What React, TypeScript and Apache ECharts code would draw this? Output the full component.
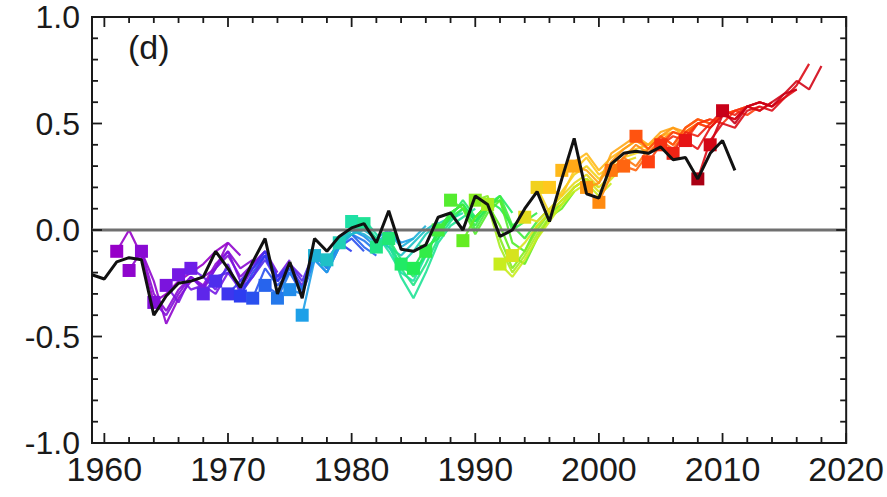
import React, { useEffect, useRef } from "react";
import * as echarts from "echarts";

// Observations (black line), yearly from 1959
const obsStartYear = 1959;
const obsValues = [
  -0.21, -0.23, -0.15, -0.13, -0.14, -0.4, -0.31, -0.25, -0.24, -0.22,
  -0.1, -0.18, -0.27, -0.15, -0.04, -0.3, -0.15, -0.32, -0.04, -0.1,
  -0.03, 0.01, 0.03, -0.06, 0.09, -0.09, -0.1, -0.07, 0.06, 0.08,
  0.0, 0.16, 0.12, -0.03, 0.0, 0.1, 0.18, 0.04, 0.24, 0.43,
  0.17, 0.15, 0.31, 0.36, 0.37, 0.36, 0.39, 0.33, 0.34, 0.24,
  0.36, 0.42, 0.28,
];

// Forecast start years and their yearly values
const forecastStarts = [
  1961, 1962, 1963, 1964, 1965, 1966, 1967, 1968, 1969, 1970,
  1971, 1972, 1973, 1974, 1975, 1976, 1977, 1978, 1979, 1980,
  1981, 1982, 1983, 1984, 1985, 1986, 1987, 1988, 1989, 1990,
  1991, 1992, 1993, 1994, 1995, 1996, 1997, 1998, 1999, 2000,
  2001, 2002, 2003, 2004, 2005, 2006, 2007, 2008, 2009, 2010,
];
const forecastValues = [
  [-0.1, 0.0, -0.12, -0.34, -0.3, -0.24, -0.2, -0.16, -0.1, -0.06],
  [-0.19, -0.1, -0.24, -0.44, -0.32, -0.24, -0.22, -0.18, -0.06, -0.12],
  [-0.1, -0.3, -0.38, -0.28, -0.22, -0.26, -0.16, -0.1, -0.18, -0.14],
  [-0.34, -0.4, -0.3, -0.22, -0.28, -0.18, -0.12, -0.22, -0.16, -0.1],
  [-0.26, -0.34, -0.22, -0.27, -0.18, -0.1, -0.24, -0.16, -0.1, -0.2],
  [-0.21, -0.28, -0.26, -0.3, -0.2, -0.28, -0.18, -0.1, -0.22, -0.14],
  [-0.18, -0.22, -0.28, -0.16, -0.3, -0.22, -0.12, -0.24, -0.16, -0.22],
  [-0.3, -0.22, -0.2, -0.26, -0.18, -0.12, -0.22, -0.18, -0.26, -0.12],
  [-0.24, -0.18, -0.28, -0.22, -0.14, -0.24, -0.16, -0.24, -0.1, -0.14],
  [-0.3, -0.24, -0.18, -0.1, -0.22, -0.16, -0.28, -0.1, -0.14, -0.06],
  [-0.31, -0.2, -0.12, -0.24, -0.18, -0.28, -0.12, -0.16, -0.06, -0.1],
  [-0.32, -0.18, -0.26, -0.2, -0.3, -0.14, -0.2, -0.08, -0.04, -0.1],
  [-0.26, -0.3, -0.18, -0.28, -0.12, -0.18, -0.06, -0.02, -0.08, -0.12],
  [-0.32, -0.2, -0.28, -0.1, -0.16, -0.06, -0.02, -0.05, -0.1, -0.04],
  [-0.28, -0.3, -0.12, -0.18, -0.06, 0.0, -0.03, -0.08, -0.02, -0.06],
  [-0.4, -0.14, -0.2, -0.08, -0.02, 0.02, -0.04, 0.0, -0.06, -0.04],
  [-0.12, -0.16, -0.04, 0.0, -0.02, -0.06, -0.01, -0.08, -0.04, 0.02],
  [-0.14, -0.06, -0.02, 0.0, -0.04, -0.08, -0.12, -0.06, 0.0, 0.04],
  [-0.06, 0.0, 0.02, -0.04, -0.08, -0.16, -0.1, -0.02, 0.03, 0.06],
  [0.04, 0.05, -0.02, -0.1, -0.2, -0.24, -0.12, 0.0, 0.05, 0.08],
  [0.03, -0.04, -0.06, -0.22, -0.32, -0.2, -0.06, 0.02, 0.06, 0.1],
  [-0.08, -0.04, -0.18, -0.26, -0.16, -0.04, 0.04, 0.1, 0.06, 0.12],
  [-0.04, -0.14, -0.2, -0.12, 0.0, 0.08, 0.12, 0.04, 0.1, 0.16],
  [-0.16, -0.22, -0.1, -0.02, 0.06, 0.14, 0.06, 0.12, 0.16, 0.08],
  [-0.18, -0.08, -0.04, 0.08, 0.12, 0.04, 0.14, 0.1, 0.02, 0.06],
  [-0.1, -0.02, 0.06, 0.1, 0.02, 0.12, 0.14, 0.0, 0.04, 0.08],
  [0.0, 0.08, 0.12, 0.0, 0.1, 0.16, 0.02, -0.04, 0.04, 0.1],
  [0.14, 0.1, -0.02, 0.08, 0.14, -0.06, -0.1, 0.02, 0.08, 0.12],
  [-0.05, 0.06, 0.12, 0.02, -0.12, -0.16, -0.04, 0.06, 0.1, 0.18],
  [0.14, 0.16, -0.04, -0.18, -0.1, 0.0, 0.08, 0.14, 0.2, 0.24],
  [0.12, -0.08, -0.2, -0.12, -0.02, 0.06, 0.12, 0.2, 0.24, 0.2],
  [-0.16, -0.22, -0.14, -0.04, 0.04, 0.12, 0.18, 0.22, 0.16, 0.22],
  [-0.12, -0.06, 0.02, 0.08, 0.14, 0.2, 0.24, 0.18, 0.24, 0.3],
  [0.06, 0.04, 0.1, 0.16, 0.22, 0.26, 0.2, 0.26, 0.32, 0.34],
  [0.2, 0.08, 0.18, 0.26, 0.3, 0.24, 0.28, 0.34, 0.36, 0.38],
  [0.2, 0.16, 0.28, 0.34, 0.26, 0.3, 0.36, 0.38, 0.4, 0.42],
  [0.28, 0.32, 0.36, 0.28, 0.34, 0.38, 0.42, 0.4, 0.44, 0.46],
  [0.3, 0.28, 0.22, 0.36, 0.4, 0.44, 0.4, 0.46, 0.48, 0.44],
  [0.2, 0.22, 0.32, 0.38, 0.42, 0.38, 0.44, 0.48, 0.46, 0.5],
  [0.13, 0.26, 0.34, 0.4, 0.36, 0.42, 0.46, 0.44, 0.5, 0.52],
  [0.28, 0.34, 0.3, 0.38, 0.44, 0.4, 0.48, 0.52, 0.5, 0.54],
  [0.3, 0.28, 0.36, 0.42, 0.38, 0.46, 0.5, 0.48, 0.54, 0.56],
  [0.44, 0.38, 0.44, 0.4, 0.48, 0.52, 0.5, 0.54, 0.56, 0.58],
  [0.32, 0.4, 0.46, 0.44, 0.5, 0.48, 0.54, 0.56, 0.54, 0.58],
  [0.4, 0.44, 0.42, 0.5, 0.52, 0.5, 0.56, 0.58, 0.56, 0.6],
  [0.36, 0.46, 0.44, 0.5, 0.56, 0.54, 0.58, 0.6, 0.58, 0.62],
  [0.42, 0.38, 0.48, 0.54, 0.52, 0.58, 0.6, 0.58, 0.62, 0.66],
  [0.24, 0.42, 0.5, 0.48, 0.56, 0.58, 0.56, 0.62, 0.68, 0.78],
  [0.4, 0.54, 0.52, 0.58, 0.56, 0.6, 0.64, 0.7, 0.66, 0.77],
  [0.56, 0.5, 0.58, 0.6, 0.58, 0.64, 0.66],
];

// Axis ticks and labels
const xMajorTicks = [1960, 1970, 1980, 1990, 2000, 2010, 2020];
const xMinorTicks = [
  1962, 1964, 1966, 1968, 1972, 1974, 1976, 1978,
  1982, 1984, 1986, 1988, 1992, 1994, 1996, 1998,
  2002, 2004, 2006, 2008, 2012, 2014, 2016, 2018,
];
const yMajorTicks = [-1.0, -0.5, 0.0, 0.5, 1.0];
const yMinorTicks = [
  -0.9, -0.8, -0.7, -0.6, -0.4, -0.3, -0.2, -0.1,
  0.1, 0.2, 0.3, 0.4, 0.6, 0.7, 0.8, 0.9,
];

// Colour stops (style) for the start year of each forecast
const colorStops: [number, number[]][] = [
  [1961, [150, 0, 200]],
  [1967, [110, 30, 232]],
  [1971, [45, 60, 240]],
  [1976, [30, 160, 232]],
  [1980, [30, 224, 165]],
  [1985, [34, 236, 85]],
  [1989, [100, 236, 34]],
  [1992, [200, 236, 30]],
  [1996, [255, 200, 30]],
  [2000, [255, 138, 16]],
  [2004, [255, 64, 16]],
  [2007, [230, 20, 22]],
  [2010, [200, 0, 24]],
];

function colorFor(year: number): string {
  let a = colorStops[0];
  let b = colorStops[colorStops.length - 1];
  for (let i = 0; i < colorStops.length - 1; i++) {
    if (year >= colorStops[i][0] && year <= colorStops[i + 1][0]) {
      a = colorStops[i];
      b = colorStops[i + 1];
      break;
    }
  }
  const t = b[0] === a[0] ? 0 : (year - a[0]) / (b[0] - a[0]);
  const c = a[1].map((v, k) => Math.round(v + (b[1][k] - v) * t));
  return `rgb(${c[0]},${c[1]},${c[2]})`;
}

const FONT = "'Liberation Sans', Arial, Helvetica, sans-serif";
const AX = "#1a1a1a";
const X_MIN = 1959;
const X_MAX = 2020;
const Y_MIN = -1;
const Y_MAX = 1;
const TW = 1.8; // tick thickness

function tickSeries(data: number[][], size: number[], offset: number[]) {
  return {
    type: "scatter",
    silent: true,
    clip: false,
    z: 6,
    symbol: "rect",
    symbolSize: size,
    symbolOffset: offset,
    itemStyle: { color: AX, opacity: 1 },
    data,
  };
}

export default function App() {
  const ref = useRef<HTMLDivElement>(null);

  useEffect(() => {
    if (!ref.current) return;
    const chart = echarts.init(ref.current, undefined, { renderer: "svg" });

    const forecastSeries = forecastStarts.map((start, si) => {
      const col = colorFor(start);
      return {
        type: "line",
        silent: true,
        z: 2,
        lineStyle: { color: col, width: 2.2, opacity: 0.9 },
        itemStyle: { color: start === 2008 ? "rgb(170,0,20)" : col },
        data: forecastValues[si].map((v, i) =>
          i === 0
            ? { value: [start + i, v], symbol: "rect", symbolSize: 13 }
            : { value: [start + i, v], symbol: "none" }
        ),
      };
    });

    const obsData = obsValues.map((v, i) => [obsStartYear + i, v]);

    const MJ = 10;
    const MN = 6;

    chart.setOption({
      animation: false,
      backgroundColor: "#ffffff",
      grid: {
        left: 92,
        right: 39,
        top: 17,
        bottom: 54,
        containLabel: false,
        show: true,
        borderColor: AX,
        borderWidth: 2,
        backgroundColor: "transparent",
      },
      xAxis: {
        type: "value",
        min: X_MIN,
        max: X_MAX,
        splitLine: { show: false },
        axisLine: { show: false },
        axisTick: { show: false },
        axisLabel: {
          show: true,
          customValues: xMajorTicks,
          fontSize: 34,
          color: AX,
          fontFamily: FONT,
          margin: 9,
          formatter: (v: number) => String(v),
        },
      },
      yAxis: {
        type: "value",
        min: Y_MIN,
        max: Y_MAX,
        interval: 0.5,
        splitLine: { show: false },
        axisLine: { show: false },
        axisTick: { show: false },
        axisLabel: {
          show: true,
          fontSize: 32,
          color: AX,
          fontFamily: FONT,
          margin: 12,
          formatter: (v: number) => v.toFixed(1),
        },
      },
      graphic: [
        {
          type: "text",
          left: 128,
          top: 30,
          style: { text: "(d)", fontSize: 34, fill: AX, fontFamily: FONT },
        },
      ],
      series: [
        ...forecastSeries,
        {
          type: "line",
          name: "zero",
          silent: true,
          z: 3,
          symbol: "none",
          lineStyle: { color: "#707070", width: 3 },
          data: [
            [X_MIN, 0],
            [X_MAX, 0],
          ],
        },
        {
          type: "line",
          name: "observations",
          silent: true,
          z: 5,
          symbol: "none",
          lineStyle: { color: "#111111", width: 3 },
          data: obsData,
        },
        // bottom ticks
        tickSeries(xMajorTicks.map((v) => [v, Y_MIN]), [TW, MJ], [0, -MJ / 2]),
        tickSeries(xMinorTicks.map((v) => [v, Y_MIN]), [TW, MN], [0, -MN / 2]),
        // top ticks
        tickSeries(xMajorTicks.map((v) => [v, Y_MAX]), [TW, MJ], [0, MJ / 2]),
        tickSeries(xMinorTicks.map((v) => [v, Y_MAX]), [TW, MN], [0, MN / 2]),
        // left ticks
        tickSeries(yMajorTicks.map((v) => [X_MIN, v]), [MJ, TW], [MJ / 2, 0]),
        tickSeries(yMinorTicks.map((v) => [X_MIN, v]), [MN, TW], [MN / 2, 0]),
        // right ticks
        tickSeries(yMajorTicks.map((v) => [X_MAX, v]), [MJ, TW], [-MJ / 2, 0]),
        tickSeries(yMinorTicks.map((v) => [X_MAX, v]), [MN, TW], [-MN / 2, 0]),
      ],
    });

    return () => chart.dispose();
  }, []);

  return (
    <div
      ref={ref}
      style={{ position: "fixed", left: 0, top: 0, width: 887, height: 497 }}
    />
  );
}
